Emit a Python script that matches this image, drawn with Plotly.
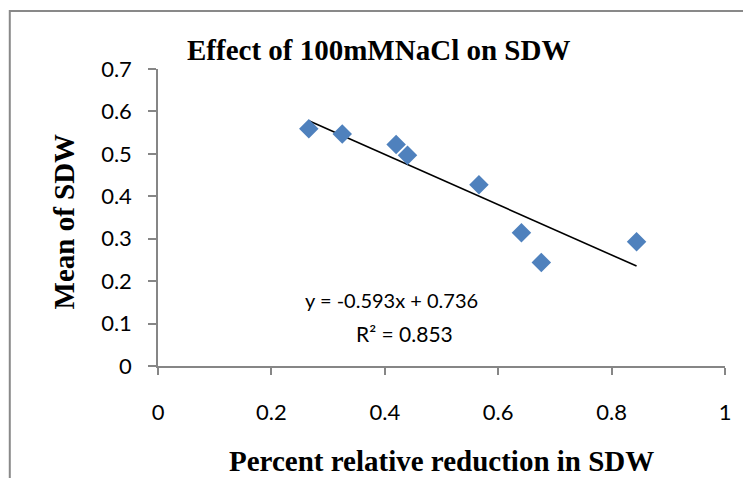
import plotly.graph_objects as go

# Data
pct_reduction = [0.266, 0.325, 0.420, 0.440, 0.566, 0.641, 0.676, 0.844]
mean_sdw = [0.559, 0.547, 0.522, 0.497, 0.427, 0.314, 0.244, 0.293]
slope = -0.593
intercept = 0.736
r_squared = 0.853
x_ticks = [0, 0.2, 0.4, 0.6, 0.8, 1]
y_ticks = [0, 0.1, 0.2, 0.3, 0.4, 0.5, 0.6, 0.7]

x_line = [min(pct_reduction), max(pct_reduction)]
y_line = [slope * v + intercept for v in x_line]

L, R, T, B = 158, 15, 69, 112
W, H = 743, 478
pw, ph = W - L - R, H - T - B

def px(xpix):
    return (xpix - L) / pw

def py(ypix):
    return (H - B - ypix) / ph

fig = go.Figure()
fig.add_trace(go.Scatter(
    x=x_line, y=y_line, mode="lines",
    line=dict(color="black", width=1.6), hoverinfo="skip", showlegend=False,
))
fig.add_trace(go.Scatter(
    x=pct_reduction, y=mean_sdw, mode="markers",
    marker=dict(symbol="diamond", size=15, color="#4F81BD", line=dict(width=0)),
    showlegend=False,
))

axis_col = "#868686"
tick_font = dict(family="Lato", size=22, color="black")

fig.update_layout(
    width=W, height=H,
    margin=dict(l=L, r=R, t=T, b=B, pad=0),
    paper_bgcolor="white", plot_bgcolor="white",
    xaxis=dict(
        range=[0, 1], tickvals=x_ticks, ticktext=[f"{v:g}" for v in x_ticks],
        showgrid=False, zeroline=False, showline=True, linecolor=axis_col, linewidth=1.5,
        ticks="outside", ticklen=7, tickcolor=axis_col, tickwidth=1.5,
        tickfont=tick_font, ticklabelstandoff=19,
    ),
    yaxis=dict(
        range=[0, 0.7], tickvals=y_ticks, ticktext=[f"{v:g}" for v in y_ticks],
        showgrid=False, zeroline=False, showline=True, linecolor=axis_col, linewidth=1.5,
        ticks="outside", ticklen=8, tickcolor=axis_col, tickwidth=1.5,
        tickfont=tick_font, ticklabelstandoff=12,
    ),
    shapes=[dict(
        type="rect", xref="paper", yref="paper",
        x0=px(9), x1=px(800), y0=py(600), y1=py(11),
        line=dict(color="#898989", width=2), fillcolor="rgba(0,0,0,0)", layer="below",
    )],
    annotations=[
        dict(text="<b>Effect of 100mMNaCl on SDW</b>", xref="paper", yref="paper",
             x=px(380), y=py(50), xanchor="center", yanchor="middle", showarrow=False,
             font=dict(family="Liberation Serif", size=29, color="black")),
        dict(text="<b>Percent relative reduction in SDW</b>", xref="paper", yref="paper",
             x=px(443), y=py(461), xanchor="center", yanchor="middle", showarrow=False,
             font=dict(family="Liberation Serif", size=29, color="black")),
        dict(text="<b>Mean of SDW</b>", xref="paper", yref="paper",
             x=px(64), y=py(221), xanchor="center", yanchor="middle", showarrow=False,
             textangle=-90,
             font=dict(family="Liberation Serif", size=29, color="black")),
        dict(text=f"y = {slope:.3f}x + {intercept:.3f}", xref="paper", yref="paper",
             x=px(393), y=py(300), xanchor="center", yanchor="middle", showarrow=False,
             font=dict(family="Lato", size=20, color="black")),
        dict(text=f"R² = {r_squared:.3f}", xref="paper", yref="paper",
             x=px(406), y=py(333), xanchor="center", yanchor="middle", showarrow=False,
             font=dict(family="Lato", size=21, color="black")),
    ],
)

fig.write_html("out.html")
